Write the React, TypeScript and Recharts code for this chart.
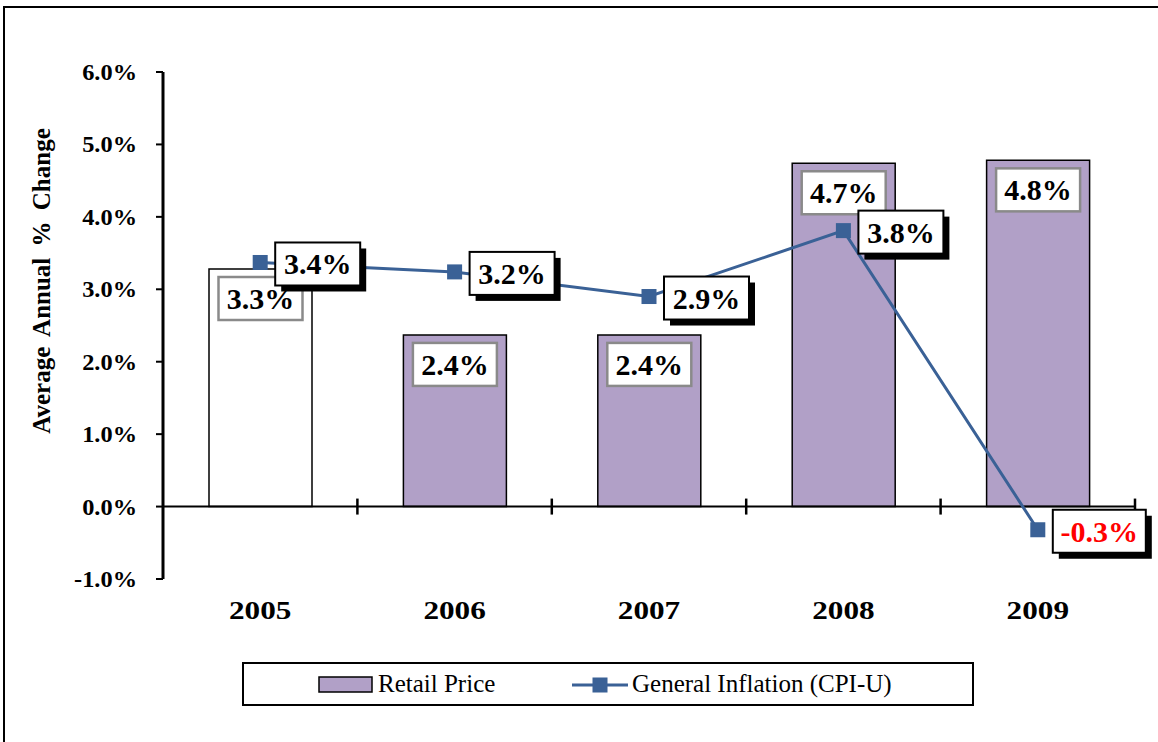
import {
  ComposedChart, Bar, Line, XAxis, YAxis, ReferenceLine, LabelList, Cell,
} from "recharts";

const YEARS = ["2005", "2006", "2007", "2008", "2009"];
const RETAIL = [3.28, 2.37, 2.37, 4.74, 4.78];
const CPI = [3.37, 3.24, 2.9, 3.81, -0.32];
const Y_TICKS = [-1, 0, 1, 2, 3, 4, 5, 6];

const data = YEARS.map((year, i) => ({ year, retail: RETAIL[i], cpi: CPI[i] }));

const W = 1158;
const H = 742;
const MARGIN = { top: 72, right: 23, left: 0, bottom: 123 };
const X_AXIS_H = 40;
const Y_AXIS_W = 163;
const PLOT_H = H - MARGIN.top - MARGIN.bottom - X_AXIS_H;
const PLOT_W = W - MARGIN.left - MARGIN.right - Y_AXIS_W;
const BAND = PLOT_W / YEARS.length;
const ZERO_Y = MARGIN.top + (PLOT_H * 6) / 7;

const SERIF = "'Liberation Serif', 'Times New Roman', serif";
const PURPLE = "#b1a0c7";
const BLUE = "#3a6196";

// axis text in the source is stretched sideways
const YTick = ({ x, y, payload }: any) => (
  <text transform={`translate(${x},${y}) scale(1.06,1)`} textAnchor="end" dy={8}
    fontFamily={SERIF} fontWeight="bold" fontSize={23} fill="#000">
    {payload.value.toFixed(1)}%
  </text>
);

const XTick = ({ x, y, payload }: any) => (
  <g>
    <text transform={`translate(${x},${y}) scale(1.2,1)`} textAnchor="middle" dy={40}
      fontFamily={SERIF} fontWeight="bold" fontSize={26} fill="#000">
      {payload.value}
    </text>
    <line x1={x + BAND / 2} x2={x + BAND / 2} y1={ZERO_Y - 8} y2={ZERO_Y + 8}
      stroke="#000" strokeWidth={2.5} />
  </g>
);

const BarLabel = ({ x, y, width, value }: any) => {
  const cx = x + width / 2;
  const top = y + 8;
  return (
    <g>
      <rect x={cx - 42} y={top} width={84} height={43} fill="#fff" stroke="#8a8a8a" strokeWidth={2.5} />
      <text x={cx} y={top + 32} textAnchor="middle" fontFamily={SERIF} fontWeight="bold"
        fontSize={30} fill="#000">
        {value.toFixed(1)}%
      </text>
    </g>
  );
};

const LineLabel = (props: any) => {
  const px = props.x ?? props.viewBox?.x;
  const py = props.y ?? props.viewBox?.y;
  const v = props.value as number;
  const w = v < 0 ? 93 : 85;
  const bx = px + 15;
  const by = py - 20;
  return (
    <g>
      <rect x={bx + 6} y={by + 6} width={w} height={43} fill="#000" />
      <rect x={bx} y={by} width={w} height={43} fill="#fff" stroke="#000" strokeWidth={2} />
      <text x={bx + w / 2} y={by + 32} textAnchor="middle" fontFamily={SERIF} fontWeight="bold"
        fontSize={30} fill={v < 0 ? "#ff0000" : "#000"}>
        {v.toFixed(1)}%
      </text>
    </g>
  );
};

const SquareDot = ({ cx, cy, index }: any) => (
  <rect key={index} x={cx - 7.5} y={cy - 7.5} width={15} height={15} fill={BLUE} />
);

export default function App() {
  return (
    <div style={{ position: "absolute", left: 0, top: 0, width: W, height: H, overflow: "hidden", background: "#fff" }}>
      <div style={{ position: "absolute", left: 3, top: 6, width: 1180, height: 780, border: "2px solid #000" }} />

      <div style={{ position: "absolute", left: 0, top: 0 }}>
        <ComposedChart width={W} height={H} data={data} margin={MARGIN}>
          <XAxis dataKey="year" height={X_AXIS_H} axisLine={false} tickLine={false}
            tickSize={0} tickMargin={0} interval={0} tick={<XTick />} />
          <YAxis domain={[-1, 6]} ticks={Y_TICKS} width={Y_AXIS_W} interval={0}
            tickSize={7} tickMargin={19} tick={<YTick />}
            axisLine={{ stroke: "#000", strokeWidth: 3 }} tickLine={{ stroke: "#000", strokeWidth: 2 }} />
          <Bar dataKey="retail" barSize={103} stroke="#000" strokeWidth={1.5} isAnimationActive={false}>
            {data.map((d, i) => (
              <Cell key={i} fill={i === 0 ? "#fff" : PURPLE} />
            ))}
            <LabelList dataKey="retail" content={<BarLabel />} />
          </Bar>
          <ReferenceLine y={0} stroke="#000" strokeWidth={2} />
          <Line type="linear" dataKey="cpi" stroke={BLUE} strokeWidth={3} dot={<SquareDot />}
            activeDot={false} isAnimationActive={false}>
            <LabelList dataKey="cpi" content={<LineLabel />} />
          </Line>
        </ComposedChart>
      </div>

      <div style={{
        position: "absolute", left: 42, top: 281, transform: "translate(-50%, -50%) rotate(-90deg)",
        whiteSpace: "nowrap", fontFamily: SERIF, fontWeight: "bold", fontSize: 25, wordSpacing: 5,
      }}>
        Average Annual % Change
      </div>

      <div style={{
        position: "absolute", left: 242, top: 662, width: 732, height: 44, boxSizing: "border-box",
        border: "2px solid #000", fontFamily: SERIF, fontSize: 25,
      }}>
        <svg style={{ position: "absolute", left: 74, top: 12 }} width={56} height={18}>
          <rect x={1} y={1} width={53} height={15} fill={PURPLE} stroke="#000" strokeWidth={1.5} />
        </svg>
        <span style={{ position: "absolute", left: 134, top: 6, whiteSpace: "nowrap" }}>Retail Price</span>
        <svg style={{ position: "absolute", left: 328, top: 11 }} width={56} height={20}>
          <line x1={0} x2={56} y1={10} y2={10} stroke={BLUE} strokeWidth={3} />
          <rect x={20.5} y={2.5} width={15} height={15} fill={BLUE} />
        </svg>
        <span style={{ position: "absolute", left: 388, top: 6, whiteSpace: "nowrap" }}>General Inflation (CPI-U)</span>
      </div>
    </div>
  );
}
